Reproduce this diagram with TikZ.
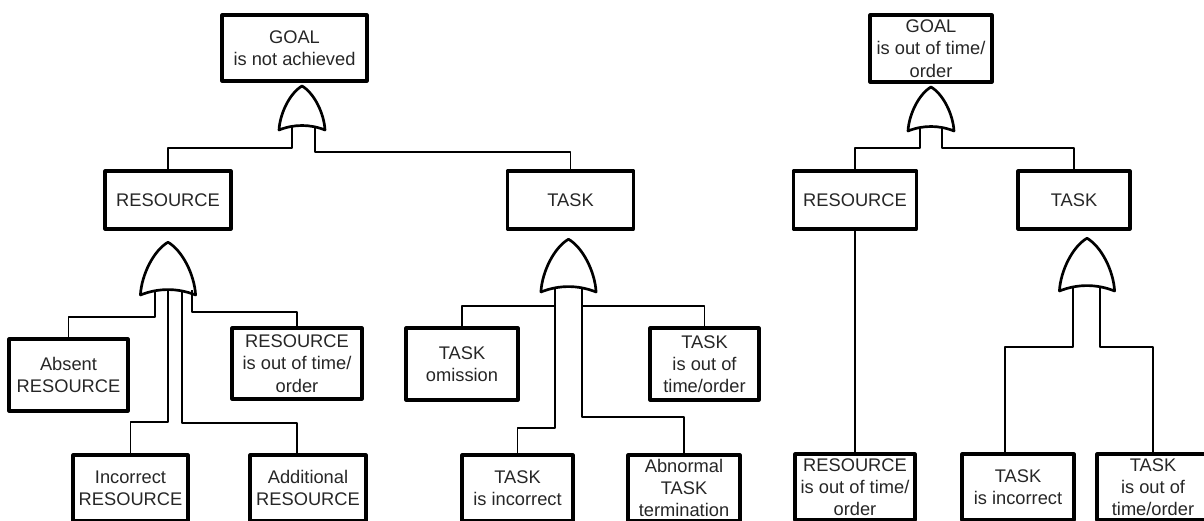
\documentclass[tikz,border=0pt]{standalone}
\usepackage{fontspec}
\setmainfont{Liberation Sans}
\usetikzlibrary{calc}
\newlength\px
\setlength\px{0.025cm}
\tikzset{
	pics/orgate/.style={code={
		\draw[gate] (-23,5) .. controls (-22,-12) and (-12,-32) .. (0,-39)
			.. controls (12,-32) and (22,-12) .. (23,5)
			.. controls (8,-1) and (-8,-1) .. cycle;
		\coordinate (-base) at (0,1);
	}}
}

\begin{document}
\begin{tikzpicture}[x=0.025cm, y=-0.025cm, line join=round,
	event/.style={draw, line width=2.2pt, align=center, inner sep=0pt, text=black!85, font=\fontsize{13}{15.8}\selectfont},
	boxsize/.style 2 args={minimum width=#1\px, minimum height=#2\px},
	gate/.style={line width=1.9pt, fill=white},
	wire/.style={line width=1.2pt}]
	\useasboundingbox (0,0) rectangle (1204,520);
	\clip (0,0) rectangle (1204,520);
	% GOAL is not achieved
	\node[event, boxsize={145}{66}] (goal1) at (294.5,48) {GOAL\\is not achieved};
	\node[event, boxsize={126}{58}] (res1) at (168,200) {RESOURCE};
	\node[event, boxsize={126}{58}] (task1) at (570.5,200) {TASK};
	\node[event, boxsize={119}{72}] (absent) at (68.5,375) {Absent\\RESOURCE};
	\node[event, boxsize={130}{71}] (resout1) at (297,363.5) {RESOURCE\\is out of time/\\order};
	\node[event, boxsize={115}{66}] (rincorrect) at (130.5,488) {Incorrect\\RESOURCE};
	\node[event, boxsize={116}{66}] (additional) at (308,488) {Additional\\RESOURCE};
	\node[event, boxsize={112}{72}] (omission) at (462,364) {TASK\\omission};
	\node[event, boxsize={109}{72}] (tout1) at (704.5,364) {TASK\\is out of\\time/order};
	\node[event, boxsize={111}{66}] (tincorrect1) at (517.5,488) {TASK\\is incorrect};
	\node[event, boxsize={112}{66}] (abnormal) at (684,488) {Abnormal\\TASK\\termination};
	\pic (g1) at (302,125) {orgate};
	\pic[scale=1.2] (g2) at (168,289) {orgate};
	\pic[scale=1.2] (g3) at (568.5,286) {orgate};
	\draw[wire] (g1-base) ++(-10,0) -- ++(0,22) -| (res1.north);
	\draw[wire] (g1-base) ++(13,0) -- ++(0,26) -| (task1.north);
	\draw[wire] (g2-base) ++(-13,0) -- ++(0,27) -| (absent.north);
	\draw[wire] (g2-base) ++(0,0) -- ++(0,132) -| (rincorrect.north);
	\draw[wire] (g2-base) ++(14,0) -- ++(0,133) -| ($(additional.north)+(-11,0)$);
	\draw[wire] (g2-base) ++(24,0) -- ++(0,22) -| (resout1.north);
	\draw[wire] (g3-base) ++(-13.5,0) -- ++(0,19) -| (omission.north);
	\draw[wire] (g3-base) ++(-13.5,0) -- ++(0,141) -| (tincorrect1.north);
	\draw[wire] (g3-base) ++(13.5,0) -- ++(0,19) -| (tout1.north);
	\draw[wire] (g3-base) ++(13.5,0) -- ++(0,130) -| (abnormal.north);
	% GOAL is out of time/order
	\node[event, boxsize={122}{67}] (goal2) at (931,48.5) {GOAL\\is out of time/\\order};
	\node[event, boxsize={123}{58}] (res2) at (855,200) {RESOURCE};
	\node[event, boxsize={112}{58}] (task2) at (1074,200) {TASK};
	\node[event, boxsize={120}{66}] (resout2) at (855,487) {RESOURCE\\is out of time/\\order};
	\node[event, boxsize={112}{66}] (tincorrect2) at (1018,487) {TASK\\is incorrect};
	\node[event, boxsize={112}{66}] (tout2) at (1153,487) {TASK\\is out of\\time/order};
	\pic (g4) at (931,126) {orgate};
	\pic[scale=1.2] (g5) at (1087,285) {orgate};
	\draw[wire] (g4-base) ++(-11,0) -- ++(0,21) -| (res2.north);
	\draw[wire] (g4-base) ++(11,0) -- ++(0,21) -| (task2.north);
	\draw[wire] (res2.south) -- (resout2.north);
	\draw[wire] (g5-base) ++(-14,0) -- ++(0,61) -| ($(tincorrect2.north)+(-13,0)$);
	\draw[wire] (g5-base) ++(13,0) -- ++(0,61) -| (tout2.north);
\end{tikzpicture}
\end{document}
